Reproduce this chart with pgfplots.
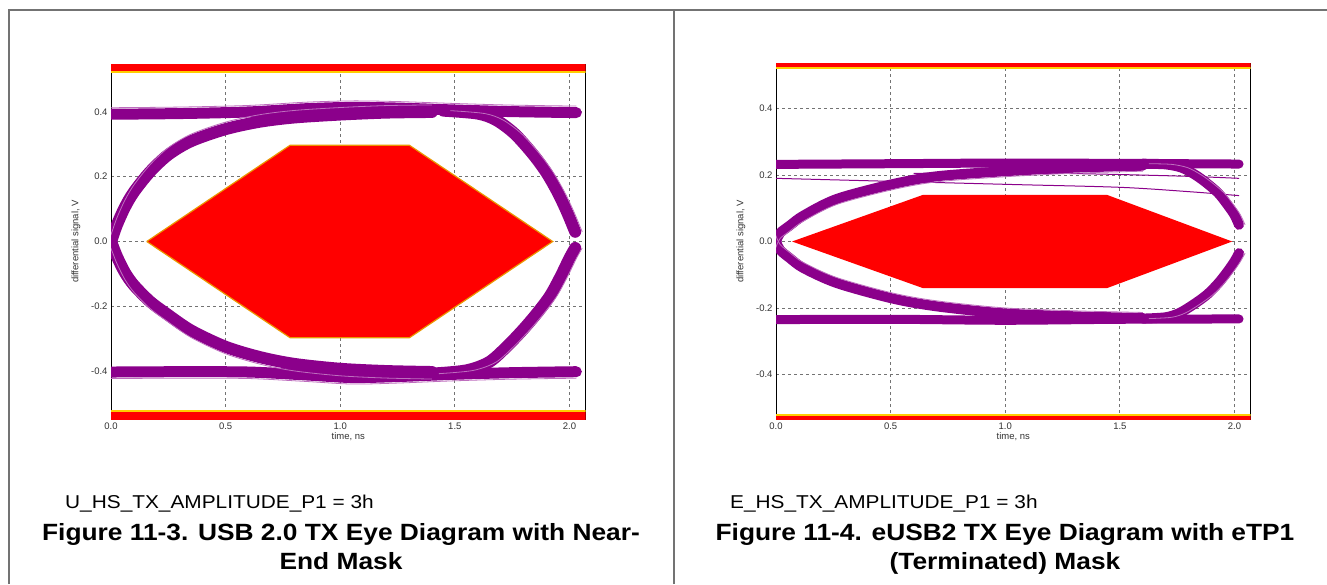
\documentclass[border=0pt]{standalone}
\usepackage{fontspec}
\setmainfont{Liberation Sans}
\newfontfamily\capfont{Liberation Sans}[FakeStretch=1.12]
\usepackage{pgfplots}
\usepackage{pgfplotstable}
\pgfplotsset{compat=1.18}

\definecolor{eyepurple}{RGB}{139,0,139}
\definecolor{eyelight}{RGB}{190,110,190}
\definecolor{maskred}{RGB}{255,0,0}
\definecolor{maskedge}{RGB}{255,205,0}
\definecolor{hexedge}{RGB}{235,150,0}
\definecolor{framegray}{RGB}{115,115,115}

% ---- left panel (USB 2.0 near-end) ----
\pgfplotstableread{
t v
0.156 0
0.781 0.297
1.302 0.297
1.927 0
1.302 -0.297
0.781 -0.297
0.156 0
}\Lmask
\pgfplotstableread{
t v
0.00 0.393
0.30 0.395
0.60 0.400
0.85 0.410
1.05 0.414
1.25 0.412
1.50 0.406
1.75 0.401
2.03 0.398
}\LtopRail
\pgfplotstableread{
t v
0.00 -0.403
0.30 -0.402
0.60 -0.403
0.85 -0.412
1.05 -0.420
1.25 -0.417
1.50 -0.410
1.75 -0.405
2.03 -0.402
}\LbotRail
\pgfplotstableread{
t v
-0.02 -0.030
0.000 0.000
0.025 0.050
0.060 0.105
0.100 0.153
0.170 0.215
0.250 0.268
0.350 0.310
0.500 0.347
0.650 0.370
0.800 0.383
1.000 0.392
1.200 0.398
1.400 0.400
}\Lrise
\pgfplotstableread{
t v
-0.02 0.030
0.000 0.000
0.025 -0.045
0.060 -0.095
0.100 -0.135
0.170 -0.185
0.240 -0.222
0.350 -0.275
0.500 -0.325
0.650 -0.357
0.800 -0.378
1.000 -0.393
1.200 -0.400
1.400 -0.403
}\Lfall
\pgfplotstableread{
t v
1.450 0.404
1.600 0.395
1.680 0.375
1.760 0.333
1.840 0.270
1.900 0.212
1.950 0.150
1.990 0.090
2.025 0.030
}\LfallEnd
\pgfplotstableread{
t v
1.400 -0.408
1.550 -0.398
1.650 -0.372
1.730 -0.322
1.800 -0.270
1.860 -0.220
1.915 -0.168
1.960 -0.110
2.000 -0.052
2.025 -0.020
}\LriseEnd

% ---- right panel (eUSB2 eTP1) ----
\pgfplotstableread{
t v
0.070 0
0.640 0.140
1.445 0.140
1.990 0
1.445 -0.140
0.640 -0.140
0.070 0
}\Rmask
\pgfplotstableread{
t v
0.00 0.232
0.50 0.234
1.00 0.236
1.50 0.235
2.02 0.233
}\RtopRail
\pgfplotstableread{
t v
0.00 -0.235
0.50 -0.234
1.00 -0.237
1.50 -0.234
2.02 -0.233
}\RbotRail
\pgfplotstableread{
t v
-0.020 -0.025
0.000 0.000
0.017 0.025
0.060 0.048
0.120 0.078
0.265 0.128
0.505 0.172
0.700 0.196
0.990 0.211
1.300 0.222
1.600 0.228
}\Rrise
\pgfplotstableread{
t v
-0.020 0.025
0.000 0.000
0.017 -0.025
0.060 -0.050
0.120 -0.080
0.265 -0.125
0.505 -0.171
0.700 -0.195
0.990 -0.216
1.300 -0.225
1.600 -0.230
}\Rfall
\pgfplotstableread{
t v
1.60 0.234
1.70 0.232
1.77 0.222
1.83 0.200
1.88 0.175
1.93 0.145
1.97 0.110
2.00 0.080
2.02 0.050
}\RfallEnd
\pgfplotstableread{
t v
1.60 -0.232
1.70 -0.228
1.76 -0.215
1.82 -0.190
1.88 -0.160
1.93 -0.125
1.97 -0.090
2.00 -0.060
2.02 -0.035
}\RriseEnd
\pgfplotstableread{
t v
0.00 0.190
1.00 0.172
1.50 0.163
1.80 0.150
2.02 0.138
}\RstrayA
\pgfplotstableread{
t v
0.60 0.205
1.00 0.207
1.40 0.203
1.80 0.196
2.02 0.190
}\RstrayB

\pgfplotsset{
  eyeaxis/.style={
    scale only axis, width=474.5pt, height=355pt, anchor=south west,
    xmin=0, xmax=2.07,
    xtick={0,0.5,1,1.5,2}, ytick={-0.4,-0.2,0,0.2,0.4},
    grid=major,
    grid style={framegray, line width=0.9pt, dash pattern=on 3pt off 3pt},
    major tick length=0pt,
    axis line style={black, line width=1pt},
    tick label style={font=\fontsize{9.5}{10}\selectfont, text=black!80},
    /pgf/number format/fixed,
    /pgf/number format/fixed zerofill,
    /pgf/number format/precision=1,
    /pgf/number format/assume math mode=true,
    xticklabel={\pgfmathprintnumber{\tick}},
    yticklabel={\pgfmathprintnumber{\tick}},
    xlabel={time, ns}, ylabel={differential signal, V},
    every axis x label/.style={at={(axis description cs:0.5,0)}, anchor=center,
      yshift=-18pt, font=\fontsize{9.5}{10}\selectfont, text=black!80},
    every axis y label/.style={at={(axis description cs:-0.0738,0.5)}, anchor=center,
      rotate=90, font=\fontsize{9.5}{10}\selectfont, text=black!80},
  },
  band/.style={color=eyepurple, line width=#1, smooth, mark=none,
    line cap=round, line join=round},
  stray/.style={color=eyelight, line width=0.8pt, smooth, mark=none},
}

\begin{document}
\begin{tikzpicture}
\useasboundingbox (0,0) rectangle (1327pt,584pt);
\fill[white] (0,0) rectangle (1327pt,584pt);
\draw[framegray, line width=1.6pt] (9pt,0) -- (9pt,573.7pt) -- (1327pt,573.7pt);
\draw[framegray, line width=1.6pt] (674pt,0) -- (674pt,573.7pt);

\begin{axis}[eyeaxis, at={(111pt,165pt)}, ymin=-0.548, ymax=0.548]
\addplot[draw=none, fill=maskred] coordinates {(0,0.527) (2.07,0.527) (2.07,0.6) (0,0.6)};
\addplot[draw=none, fill=maskred] coordinates {(0,-0.527) (2.07,-0.527) (2.07,-0.6) (0,-0.6)};
\addplot[maskedge, line width=1.5pt] coordinates {(0,0.524) (2.07,0.524)};
\addplot[maskedge, line width=1.5pt] coordinates {(0,-0.524) (2.07,-0.524)};
\addplot[fill=maskred, draw=hexedge, line width=1.2pt, line join=miter] table {\Lmask};
\addplot[band=11pt] table {\LtopRail};
\addplot[band=11pt] table {\LbotRail};
\addplot[band=12pt] table {\Lrise};
\addplot[band=12pt] table {\Lfall};
\addplot[band=12pt] table {\LfallEnd};
\addplot[band=12pt] table {\LriseEnd};
\addplot[stray, yshift=6.5pt] table {\LtopRail};
\addplot[stray, yshift=-6.5pt] table {\LbotRail};
\addplot[stray, yshift=7pt] table {\Lrise};
\addplot[stray, yshift=-7pt] table {\Lfall};
\addplot[stray, xshift=7pt] table {\LfallEnd};
\addplot[stray, xshift=7pt] table {\LriseEnd};
\end{axis}

\begin{axis}[eyeaxis, at={(776pt,165pt)}, ymin=-0.534, ymax=0.534]
\addplot[draw=none, fill=maskred] coordinates {(0,0.526) (2.07,0.526) (2.07,0.6) (0,0.6)};
\addplot[draw=none, fill=maskred] coordinates {(0,-0.526) (2.07,-0.526) (2.07,-0.6) (0,-0.6)};
\addplot[maskedge, line width=1.2pt] coordinates {(0,0.522) (2.07,0.522)};
\addplot[maskedge, line width=1.2pt] coordinates {(0,-0.522) (2.07,-0.522)};
\addplot[fill=maskred, draw=none] table {\Rmask};
\addplot[band=9pt] table {\RtopRail};
\addplot[band=9pt] table {\RbotRail};
\addplot[band=10pt] table {\Rrise};
\addplot[band=10pt] table {\Rfall};
\addplot[band=10pt] table {\RfallEnd};
\addplot[band=10pt] table {\RriseEnd};
\addplot[color=eyepurple, line width=1pt, smooth, mark=none] table {\RstrayA};
\addplot[color=eyepurple, line width=1pt, smooth, mark=none] table {\RstrayB};
\addplot[stray, yshift=-5.5pt] table {\Rrise};
\addplot[stray, yshift=5.5pt] table {\Rfall};
\addplot[stray, xshift=6pt] table {\RfallEnd};
\addplot[stray, xshift=6pt] table {\RriseEnd};
\end{axis}

\node[anchor=base west, inner sep=0, font=\capfont\fontsize{18.6}{22}\selectfont]
  at (65pt,75.7pt) {U\_HS\_TX\_AMPLITUDE\_P1 = 3h};
\node[anchor=base, inner sep=0, font=\capfont\bfseries\fontsize{23.5}{29}\selectfont]
  at (341pt,44pt) {Figure 11-3. USB 2.0 TX Eye Diagram with Near-};
\node[anchor=base, inner sep=0, font=\capfont\bfseries\fontsize{23.5}{29}\selectfont]
  at (341pt,14.7pt) {End Mask};

\node[anchor=base west, inner sep=0, font=\capfont\fontsize{18.6}{22}\selectfont]
  at (730pt,75.7pt) {E\_HS\_TX\_AMPLITUDE\_P1 = 3h};
\node[anchor=base, inner sep=0, font=\capfont\bfseries\fontsize{23.5}{29}\selectfont]
  at (1005pt,44pt) {Figure 11-4. eUSB2 TX Eye Diagram with eTP1};
\node[anchor=base, inner sep=0, font=\capfont\bfseries\fontsize{23.5}{29}\selectfont]
  at (1005pt,14.7pt) {(Terminated) Mask};
\end{tikzpicture}
\end{document}
